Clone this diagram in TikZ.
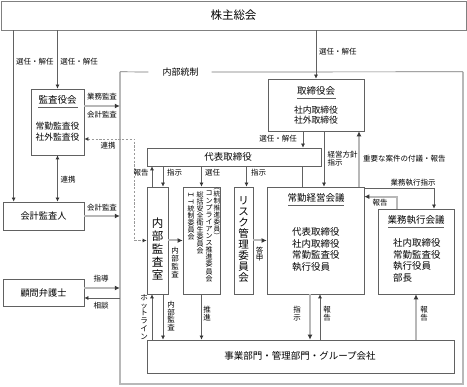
\documentclass[tikz,border=0pt]{standalone}
\usepackage{fontspec}
\setmainfont{Noto Sans CJK JP}
\usetikzlibrary{arrows.meta,calc}
\definecolor{bord}{gray}{0.38}
\definecolor{lg}{gray}{0.72}
\definecolor{hd}{gray}{0.22}
\tikzset{
  bx/.style={draw=bord, line width=0.7pt, inner sep=0, fill=white},
  ln/.style={draw=bord, line width=0.7pt},
  arr/.style={ln, -{Latex[length=4pt,width=4pt,color=hd]}},
  arrb/.style={ln, {Latex[length=4pt,width=4pt,color=hd]}-{Latex[length=4pt,width=4pt,color=hd]}},
  garr/.style={draw=lg, line width=2pt, -{Latex[length=5pt,width=5pt,color=hd]}},
  gln/.style={draw=lg, line width=2pt},
  dsh/.style={draw=black!40, line width=0.8pt, dash pattern=on 2.2pt off 1.6pt, {Latex[length=4pt,width=4pt,color=hd]}-{Latex[length=4pt,width=4pt,color=hd]}},
  lbl/.style={font=\fontsize{7.5}{8}\selectfont, inner sep=0},
  vlbl/.style={font=\fontsize{7.5}{7.8}\selectfont, inner sep=0, align=center},
  vcol/.style={font=\fontsize{7}{7.1}\selectfont, inner sep=0, align=center, anchor=north},
  ttl/.style={font=\fontsize{9.5}{11}\selectfont, inner sep=0},
  cnt/.style={font=\fontsize{9.5}{11.5}\selectfont, inner sep=0},
}
\begin{document}
\begin{tikzpicture}[x=1pt,y=-1pt]
\useasboundingbox (0,0) rectangle (467,387);

% internal control frame
\node[minimum width=343pt, minimum height=312pt, inner sep=0] (ic) at (291.5,228) {};
\node[font=\fontsize{9}{10}\selectfont, inner sep=0] (icT) at (180.5,72) {内部統制};
\draw[gln] (ic.north west) -- (ic.south west) -- (ic.south east) -- (ic.north east);
\draw[ln, draw=black!55] (ic.north west) -- ([xshift=-14pt]icT.west);
\draw[ln, draw=black!55] ([xshift=13pt]icT.east) -- (ic.north east);

% boxes
\node[bx, draw=black!50, minimum width=465pt, minimum height=29pt] (kabu) at (233.5,15.5) {};
\node[font=\fontsize{11.5}{13}\selectfont, inner sep=0] (kabuT) at (233.5,15) {株主総会};

\node[bx, minimum width=53pt, minimum height=66pt] (kansa) at (57.5,122) {};
\node[ttl] (kansaT) at (57.5,100) {監査役会};
\draw[ln] (38,107) -- (78,107);
\node[cnt, align=center, font=\fontsize{8.8}{11}\selectfont] (kansaC) at (57.5,131.5) {常勤監査役\\社外監査役};

\node[bx, minimum width=81pt, minimum height=28pt] (kaikei) at (43.5,216) {};
\node[ttl, font=\fontsize{9.2}{11}\selectfont] (kaikeiT) at (43.5,216) {会計監査人};

\node[bx, minimum width=81pt, minimum height=27pt] (komon) at (43.5,292.5) {};
\node[ttl, font=\fontsize{9.2}{11}\selectfont] (komonT) at (43.5,293) {顧問弁護士};

\node[bx, minimum width=96pt, minimum height=52pt] (tori) at (316,105) {};
\node[ttl] (toriT) at (316,91) {取締役会};
\draw[ln] (297,98) -- (336,98);
\node[cnt, align=center, font=\fontsize{8.8}{10}\selectfont] (toriC) at (316,115) {社内取締役\\社外取締役};

\node[bx, minimum width=174pt, minimum height=18pt] (daihyo) at (234,157) {};
\node[ttl] (daihyoT) at (228,157) {代表取締役};

\node[bx, minimum width=21pt, minimum height=107pt] (naibu) at (157.5,240.5) {};
\node[font=\fontsize{11.5}{13}\selectfont, inner sep=0, align=center] (naibuT) at (157.5,249) {内\\部\\監\\査\\室};

\node[bx, minimum width=37pt, minimum height=107pt] (iinkai) at (201.5,240.5) {};
\node[vcol, font=\fontsize{6.6}{7}\selectfont] (c1) at (216.8,188) {︵\\統\\制\\推\\進\\委\\員\\︶};
\node[vcol] (c2) at (209,191) {コ\\ン\\プ\\ラ\\イ\\ア\\ン\\ス\\推\\進\\委\\員\\会};
\node[vcol] (c3) at (200,191) {総\\括\\安\\全\\衛\\生\\委\\員\\会};
\node[vcol] (c4) at (191,191) {\rotatebox[origin=c]{-90}{Ｉ}\\\rotatebox[origin=c]{-90}{Ｔ}\\統\\制\\委\\員\\会};

\node[bx, minimum width=19pt, minimum height=107pt] (risk) at (243.5,240.5) {};
\node[font=\fontsize{10.5}{11}\selectfont, inner sep=0, align=center] (riskT) at (243.5,239) {リ\\ス\\ク\\管\\理\\委\\員\\会};

\node[bx, minimum width=97pt, minimum height=107pt] (joukin) at (315.5,240.5) {};
\node[ttl] (joukinT) at (316,198) {常勤経営会議};
\draw[ln] (288,205) -- (344,205);
\node[cnt, align=left, anchor=west] (joukinC) at (292,249.3) {代表取締役\\社内取締役\\常勤監査役\\執行役員};

\node[bx, minimum width=76pt, minimum height=85pt] (gyomu) at (416,251.5) {};
\node[ttl] (gyomuT) at (416,220) {業務執行会議};
\draw[ln] (388,227) -- (444,227);
\node[cnt, align=left, anchor=west, font=\fontsize{9.5}{11.7}\selectfont] (gyomuC) at (393,260.5) {社内取締役\\常勤監査役\\執行役員\\部長};

\node[bx, minimum width=307pt, minimum height=33pt] (jigyo) at (300.5,356.5) {};
\node[ttl] (jigyoT) at (300,356) {事業部門・管理部門・グループ会社};

% shareholders connectors
\coordinate (k14) at ($(kaikei.north west)+(11,0)$);
\draw[arr] (kabu.south -| k14) -- (k14);
\draw[arr] (kabu.south -| kansa.north) -- (kansa.north);
\draw[arr] (kabu.south -| tori.north) -- (tori.north);

% audit board
\draw[arrb] (kansa.south) -- (kansa.south |- kaikei.north);
\path ([yshift=16pt]kansa.east) coordinate (a1);
\draw[garr] (a1) -- (a1 -| ic.west);
\draw[garr] (kaikei.east) -- (kaikei.east -| ic.west);
\path ([yshift=4.5pt]komon.east) coordinate (a2);
\draw[garr] (a2) -- (a2 -| ic.west);
\path ([yshift=-5.5pt]komon.east) coordinate (a3);
\draw[arr] (a3 -| ic.west) -- (a3);

% dashed cooperation
\path ([yshift=-17pt]kansa.east) coordinate (d1);
\coordinate (d2) at ($(naibu.west)+(-12,0)$);
\draw[dsh] (d1) -| (d2) -- (naibu.west);

% board connectors
\coordinate (t1) at ($(tori.south)+(-13,0)$);
\draw[arr] (t1) -- (t1 |- daihyo.north);
\coordinate (t2) at ($(tori.south)+(8,0)$);
\draw[arr] (t2) -- (t2 |- joukin.north);
\coordinate (t3) at ($(joukin.north)+(43.5,0)$);
\draw[garr] (t3) -- (t3 |- tori.south);
\coordinate (t4) at ($(joukin.north)+(-13.5,0)$);
\draw[ln] (t4 |- daihyo.south) -- (t4);

\draw[arr] ([yshift=-2pt]joukin.north east) -| ($(gyomu.north)+(18,0)$);
\draw[garr] ($(gyomu.north)+(-19,0)$) |- ([yshift=-10pt]joukin.north east);

% representative director to column
\coordinate (n1) at ($(naibu.north)+(-5.5,0)$);
\draw[arr] (n1) -- (n1 |- daihyo.south);
\coordinate (n2) at ($(naibu.north)+(5.5,0)$);
\draw[arr] (n2 |- daihyo.south) -- (n2);
\draw[arr] (iinkai.north |- daihyo.south) -- (iinkai.north);
\coordinate (n3) at ($(risk.north)+(3,0)$);
\draw[arr] (n3 |- daihyo.south) -- (n3);

\draw[garr] (naibu.east) -- (iinkai.west);
\draw[garr] (risk.east) -- (joukin.west);

% bottom
\coordinate (b1) at ($(naibu.south)+(-5.5,0)$);
\draw[arr] (b1 |- jigyo.north) -- (b1);
\coordinate (b2) at ($(naibu.south)+(5.5,0)$);
\draw[arr] (b2) -- (b2 |- jigyo.north);
\draw[arr] (iinkai.south) -- (iinkai.south |- jigyo.north);
\coordinate (b3) at ($(joukin.south)+(-5.5,0)$);
\draw[garr] (b3) -- (b3 |- jigyo.north);
\coordinate (b4) at ($(joukin.south)+(4.5,0)$);
\draw[arr] (b4 |- jigyo.north) -- (b4);
\draw[garr] (gyomu.south |- jigyo.north) -- (gyomu.south);

% labels
\node[lbl] (L1) at (35,62) {選任・解任};
\node[lbl] (L2) at (79,62) {選任・解任};
\node[lbl, anchor=west] (L3) at (319,52) {選任・解任};
\node[lbl] (L4) at (102,97) {業務監査};
\node[lbl] (L5) at (102,115) {会計監査};
\node[lbl] (L6) at (68,180) {連携};
\node[lbl] (L7) at (108,146) {連携};
\node[lbl] (L8) at (102,208) {会計監査};
\node[lbl] (L9) at (101,279) {指導};
\node[lbl] (L10) at (101,306) {相談};
\node[lbl, anchor=east] (L11) at (297,139) {選任・解任};
\node[lbl, anchor=west] (L12) at (327.5,155) {経営方針};
\node[lbl, anchor=west] (L13) at (327.5,163) {指示};
\node[lbl, anchor=west] (L14) at (363,159) {重要な案件の付議・報告};
\node[lbl] (L15) at (413,183) {業務執行指示};
\node[lbl] (L16) at (380,203) {報告};
\node[lbl] (L17) at (141,173) {報告};
\node[lbl, anchor=west] (L18) at (167,173) {指示};
\node[lbl, anchor=west] (L19) at (205,173) {選任};
\node[lbl, anchor=west] (L20) at (251,173) {指示};

\node[vlbl] (V1) at (175,262.5) {内\\部\\監\\査};
\node[vlbl] (V2) at (259.5,254) {答\\申};
\node[vlbl] (V3) at (144,317) {ホ\\ッ\\ト\\ラ\\イ\\ン};
\node[vlbl] (V4) at (171,316) {内\\部\\監\\査};
\node[vlbl] (V5) at (207,314) {推\\進};
\node[vlbl] (V6) at (297,314) {指\\示};
\node[vlbl] (V7) at (327,314) {報\\告};
\node[vlbl] (V8) at (424,314) {報\\告};
\end{tikzpicture}
\end{document}
